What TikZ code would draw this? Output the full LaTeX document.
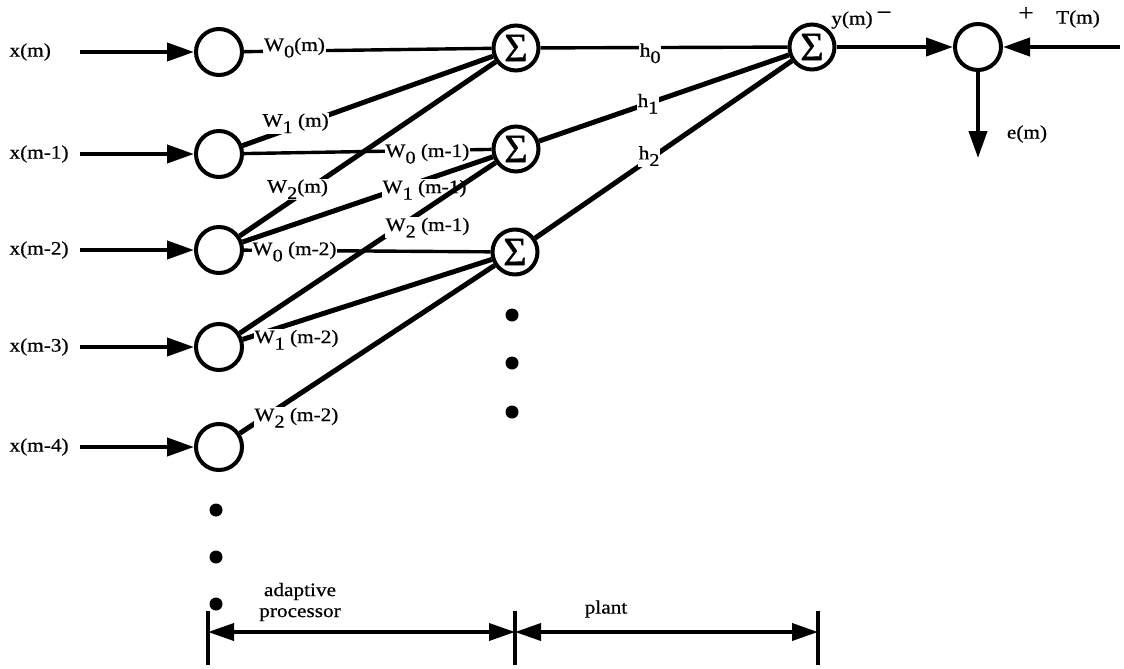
\documentclass[tikz,border=0pt]{standalone}
\usepackage{fontspec}
\setmainfont{Liberation Serif}[FakeStretch=1.12,FakeBold=0.6]
\newfontfamily\sigmafont{Liberation Serif}[FakeBold=1]
\usetikzlibrary{arrows.meta}

% lowered index digit used in the weight and plant labels
\newcommand\wsub[1]{\raisebox{-6.5pt}{\fontsize{18}{18}\selectfont #1}}

\begin{document}
\begin{tikzpicture}[x=1pt,y=-1pt,
  every node/.style={font=\fontsize{19}{21}\selectfont},
  tap/.style={circle,draw,line width=4pt,minimum size=46pt,inner sep=0pt},
  adder/.style={circle,draw,line width=4pt,minimum size=45pt,inner sep=0pt,
    font=\sigmafont\fontsize{40}{40}\selectfont},
  wire/.style={line width=5pt},
  hwire/.style={line width=3.4pt},
  feed/.style={line width=4pt,-{Triangle[length=27pt,width=18pt]}},
  wlab/.style={fill=white,inner sep=0.6pt,anchor=base},
  sign/.style={inner sep=0pt,font=\fontsize{24}{24}\selectfont},
  dot/.style={circle,fill,inner sep=0pt,minimum size=13pt},
  dim/.style={line width=3.6pt,{Triangle[length=26pt,width=17pt]}-{Triangle[length=26pt,width=17pt]}},
  tick/.style={line width=3.6pt},
]
\useasboundingbox (0,0) rectangle (1124,669);

% input delay line taps
\node[tap] (c0) at (219,52) {};
\node[tap] (c1) at (219,154) {};
\node[tap] (c2) at (219,250) {};
\node[tap] (c3) at (219,347) {};
\node[tap] (c4) at (219,447) {};

\node[anchor=west] (x0) at (6,52) {x(m)};
\node[anchor=west] (x1) at (6,154) {x(m-1)};
\node[anchor=west] (x2) at (6,250) {x(m-2)};
\node[anchor=west] (x3) at (6,347) {x(m-3)};
\node[anchor=west] (x4) at (6,447) {x(m-4)};

\foreach \i/\y in {0/52,1/154,2/250,3/347,4/447}{
  \coordinate (a\i) at (80,\y);
  \draw[feed] (a\i) -- (c\i);
}

% adaptive processor adders
\node[adder] (s0) at (516,48) {Σ};
\node[adder] (s1) at (516,149) {Σ};
\node[adder] (s2) at (515,252) {Σ};

% weighted connections
\draw[hwire] (c0) -- node[wlab,pos=0.204]{W\wsub{0}(m)} (s0);
\draw[wire] (c1) -- node[wlab,pos=0.212]{W\wsub{1} (m)} (s0);
\draw[hwire] (c1) -- node[wlab,pos=0.741,yshift=-6.5pt]{W\wsub{0} (m-1)} (s1);
\draw[wire] (c2) -- node[wlab,pos=0.226,yshift=4pt]{W\wsub{2}(m)} (s0);
\draw[wire] (c2) -- node[wlab,pos=0.727,yshift=-13pt]{W\wsub{1} (m-1)} (s1);
\draw[hwire] (c2) -- node[wlab,pos=0.205,yshift=-4.5pt]{W\wsub{0} (m-2)} (s2);
\draw[wire] (c3) -- node[wlab,pos=0.734,yshift=-23pt]{W\wsub{2} (m-1)} (s1);
\draw[wire] (c3) -- node[wlab,pos=0.216,yshift=-21pt]{W\wsub{1} (m-2)} (s2);
\draw[wire] (c4) -- node[wlab,pos=0.222,yshift=-25pt]{W\wsub{2} (m-2)} (s2);

% plant
\node[adder] (p) at (812,47) {Σ};
\draw[hwire] (s0) -- node[wlab,pos=0.444,yshift=-9pt]{h\wsub{0}} (p);
\draw[wire] (s1) -- node[wlab,pos=0.436,yshift=-3.5pt]{h\wsub{1}} (p);
\draw[wire] (s2) -- node[wlab,pos=0.444]{h\wsub{2}} (p);

% error junction
\node[tap] (e) at (978,47) {};
\coordinate (tin) at (1120,47);
\coordinate (eout) at (978,158);
\draw[feed] (p) -- (e);
\draw[feed] (tin) -- (e);
\draw[feed] (e) -- (eout);
\node (ylab) at (852,20) {y(m)};
\node[sign] (minus) at (884,16) {−};
\node[sign] (plus) at (1026,14) {+};
\node (tlab) at (1078,19) {T(m)};
\node (elab) at (1027,134) {e(m)};

% continuation dots
\foreach \i/\y in {1/315,2/363,3/412}{
  \node[dot] (sd\i) at (512,\y) {};
}
\foreach \i/\y in {1/510,2/557,3/604}{
  \node[dot] (cd\i) at (216,\y) {};
}

% extent of the two blocks
\coordinate (t1) at (208,632);
\coordinate (t2) at (515,632);
\coordinate (t3) at (818,632);
\foreach \t in {t1,t2,t3}{
  \draw[tick] (\t) ++(0,-21) -- ++(0,54);
}
\draw[dim] (t1) -- (t2);
\draw[dim] (t2) -- (t3);
\node[align=center] (lab1) at (300,602) {adaptive\\processor};
\node (lab2) at (606,609) {plant};
\end{tikzpicture}
\end{document}
